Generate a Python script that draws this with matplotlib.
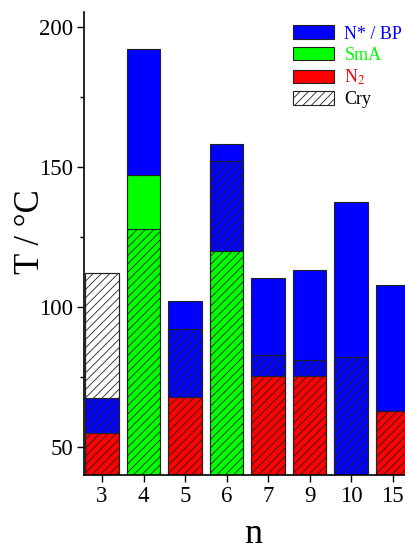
import numpy as np
import matplotlib
matplotlib.use("Agg")
import matplotlib.pyplot as plt
from matplotlib.patches import Patch
from matplotlib.ticker import MultipleLocator

plt.rcParams['font.family'] = ['Liberation Serif', 'DejaVu Serif']
plt.rcParams['mathtext.fontset'] = 'stix'
plt.rcParams['hatch.linewidth'] = 0.6

# ---- data (°C) ----
n_labels = ['3', '4', '5', '6', '7', '9', '10', '15']
n2_top = [55.0, np.nan, 68.0, np.nan, 75.5, 75.5, np.nan, 63.0]      # N2 phase upper limit
sma_top = [np.nan, 147.0, np.nan, 120.0, np.nan, np.nan, np.nan, np.nan]  # SmA upper limit
bp_top = [67.5, 192.0, 102.0, 158.3, 110.5, 113.3, 137.4, 107.7]     # N*/BP upper limit
cry_top = [112.0, 128.0, 92.3, 152.0, 83.0, 81.0, 82.3, 63.0]       # crystal melting

blue = '#0000FF'
green = '#00FF00'
red = '#FF0000'
edge = '#222222'

fig = plt.figure(figsize=(4.06, 5.52), dpi=100)
ax = fig.add_axes([0.2069, 0.1395, 0.8116, 0.8388])

x = np.arange(len(n_labels))
w = 0.8
base = 0.0
for i in x:
    prev = base
    if not np.isnan(n2_top[i]):
        ax.bar(i, n2_top[i] - prev, bottom=prev, width=w, color=red, edgecolor=edge, linewidth=0.8)
        prev = n2_top[i]
    if not np.isnan(sma_top[i]):
        ax.bar(i, sma_top[i] - prev, bottom=prev, width=w, color=green, edgecolor=edge, linewidth=0.8)
        prev = sma_top[i]
    ax.bar(i, bp_top[i] - prev, bottom=prev, width=w, color=blue, edgecolor=edge, linewidth=0.8)
    prev = bp_top[i]
    if cry_top[i] > prev:
        ax.bar(i, cry_top[i] - prev, bottom=prev, width=w, color='white', edgecolor=edge, linewidth=0.8)
    ax.bar(i, cry_top[i] - base, bottom=base, width=w, fill=False, hatch='////',
           edgecolor=edge, linewidth=0.8)

ax.set_xlim(-0.434, 7.506)
ax.set_ylim(40, 205.4)
ax.set_xticks(x)
ax.set_xticklabels(n_labels)
ax.yaxis.set_major_locator(MultipleLocator(50))
ax.yaxis.set_minor_locator(MultipleLocator(25))
ax.tick_params(axis='both', which='major', direction='out', length=5, width=1.0,
               labelsize=16.5, pad=3)
ax.tick_params(axis='y', which='minor', direction='out', length=3, width=1.0)
ax.tick_params(axis='x', which='minor', bottom=False)
for s in ['top', 'right']:
    ax.spines[s].set_visible(False)
for s in ['left', 'bottom']:
    ax.spines[s].set_linewidth(1.2)

ax.set_ylabel('T / °C', fontsize=25)
ax.yaxis.set_label_coords(-0.113, 0.525)
ax.set_xlabel('n', fontsize=26)
ax.xaxis.set_label_coords(0.513, -0.092)

handles = [Patch(facecolor=blue, edgecolor=edge, linewidth=0.8),
           Patch(facecolor=green, edgecolor=edge, linewidth=0.8),
           Patch(facecolor=red, edgecolor=edge, linewidth=0.8),
           Patch(facecolor='white', edgecolor=edge, hatch='////', linewidth=0.8)]
labels = ['N* / BP', 'SmA', 'N$_2$', 'Cry']
leg = ax.legend(handles, labels, loc='upper left', bbox_to_anchor=(0.612, 0.9865),
                frameon=False, fontsize=13, handlelength=2.3, handleheight=0.8,
                labelspacing=0.22, handletextpad=0.55, borderaxespad=0)
for t, c in zip(leg.get_texts(), [blue, green, red, 'black']):
    t.set_color(c)

fig.savefig('out.png', dpi=100)
